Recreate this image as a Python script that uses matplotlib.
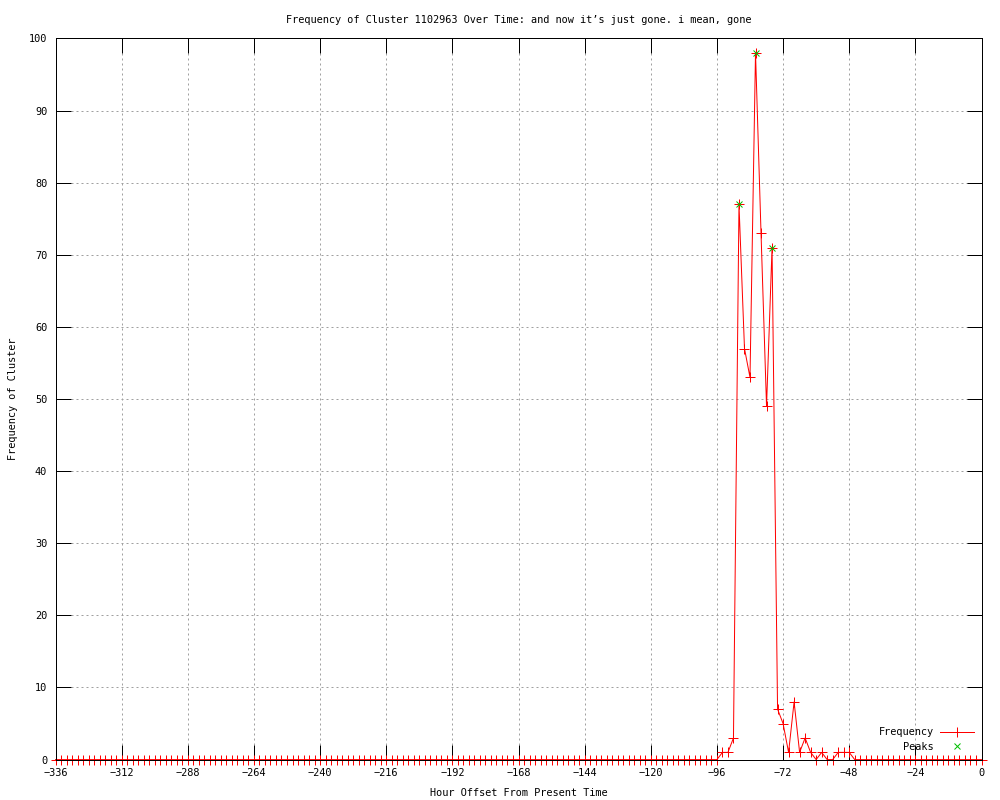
import matplotlib
matplotlib.use("Agg")
import matplotlib.pyplot as plt
import numpy as np

hours = list(range(-336, 1, 2))
nonzero = {-94: 1, -92: 1, -90: 3, -88: 77, -86: 57, -84: 53, -82: 98, -80: 73,
           -78: 49, -76: 71, -74: 7, -72: 5, -70: 1, -68: 8, -66: 1, -64: 3,
           -62: 1, -60: 0, -58: 1, -56: 0, -54: 0, -52: 1, -50: 1, -48: 1}
freq = [nonzero.get(h, 0) for h in hours]
peak_hours = [-88, -82, -76]
peak_vals = [77, 98, 71]

xticks = list(range(-336, 1, 24))
yticks = list(range(0, 101, 10))

plt.rcParams['font.family'] = ['DejaVu Sans Mono']
fs = 7.4
px = 0.72  # one pixel in points

fig = plt.figure(figsize=(10, 8), dpi=100)
ax = fig.add_axes([0.0555, 0.0505, 0.926, 0.9015])

ax.plot(hours, freq, color='red', lw=px, marker='+', ms=6.5, mew=px, label='Frequency',
        clip_on=False, zorder=2)
ax.plot(peak_hours, peak_vals, ls='none', color='#00c000', marker='x', ms=5, mew=px,
        label='Peaks', clip_on=False, zorder=4)

ax.set_xlim(-336, 0)
ax.set_ylim(0, 100)
ax.set_xticks(xticks)
ax.set_yticks(yticks)
ax.set_xticklabels([str(t).replace('-', '\u2212') for t in xticks], fontsize=fs)
ax.set_yticklabels([str(t) for t in yticks], fontsize=fs)
ax.tick_params(direction='in', length=11, width=px, top=True, right=True, pad=6)
ax.grid(True, color='#a0a0a0', ls=(0, (2, 3)), lw=px)
for s in ax.spines.values():
    s.set_linewidth(px)
    s.set_zorder(3)

ax.set_title("Frequency of Cluster 1102963 Over Time: and now it\u2019s just gone. i mean, gone",
             fontsize=fs, pad=11)
ax.set_xlabel("Hour Offset From Present Time", fontsize=fs, labelpad=7)
ax.set_ylabel("Frequency of Cluster", fontsize=fs, labelpad=8)

leg = ax.legend(loc='lower right', frameon=False, markerfirst=False, fontsize=fs,
                handlelength=3.3, borderaxespad=0.35, labelspacing=0.45, handletextpad=0.6)

fig.savefig("out.png", dpi=100)
